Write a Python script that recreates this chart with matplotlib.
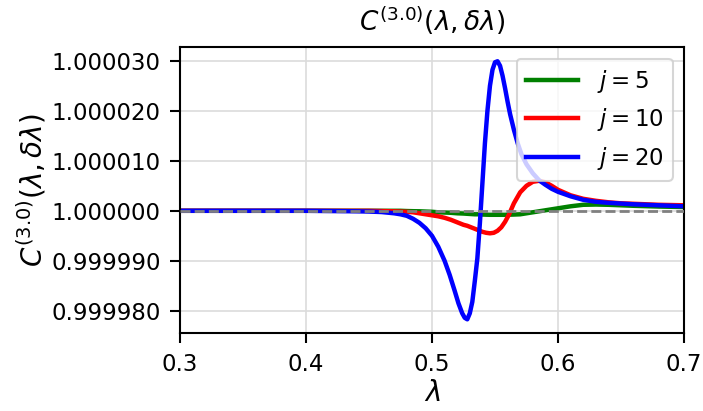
import matplotlib
matplotlib.use('Agg')
import matplotlib.pyplot as plt
from matplotlib.ticker import FormatStrFormatter, MultipleLocator
import numpy as np

# lambda values and deviations from 1 (units of 1e-5)
lam = [0.30, 0.35, 0.40, 0.42, 0.44, 0.45, 0.46, 0.47, 0.475, 0.48, 0.485, 0.49,
       0.495, 0.50, 0.505, 0.51, 0.515, 0.52, 0.525, 0.528, 0.531, 0.534, 0.537,
       0.540, 0.543, 0.546, 0.549, 0.552, 0.555, 0.558, 0.561, 0.565, 0.57, 0.575,
       0.58, 0.585, 0.59, 0.595, 0.60, 0.61, 0.62, 0.63, 0.64, 0.65, 0.66, 0.68, 0.70]

dev_j5 = [0, 0, 0, 0, 0, 0, 0, 0, 0, -0.005, -0.008, -0.01,
          -0.015, -0.02, -0.03, -0.035, -0.04, -0.05, -0.055, -0.06, -0.065, -0.07, -0.07,
          -0.075, -0.078, -0.08, -0.08, -0.08, -0.08, -0.08, -0.078, -0.075, -0.07, -0.05,
          -0.03, -0.01, 0.01, 0.03, 0.05, 0.09, 0.12, 0.125, 0.12, 0.11, 0.10, 0.085, 0.075]

dev_j10 = [0, 0, 0, 0, 0, 0, -0.005, -0.01, -0.015, -0.02, -0.03, -0.05,
           -0.07, -0.09, -0.11, -0.14, -0.18, -0.23, -0.28, -0.30, -0.33, -0.36, -0.39,
           -0.42, -0.44, -0.45, -0.44, -0.40, -0.33, -0.22, -0.08, 0.15, 0.37, 0.50,
           0.58, 0.60, 0.57, 0.50, 0.42, 0.31, 0.24, 0.20, 0.17, 0.15, 0.14, 0.12, 0.11]

# j = 20 is much sharper, read on a finer lambda grid
lam_j20 = [0.30, 0.40, 0.42, 0.44, 0.45, 0.46, 0.47, 0.475, 0.48, 0.485,
           0.49, 0.495, 0.50, 0.505, 0.51, 0.514, 0.518, 0.521, 0.524, 0.526,
           0.528, 0.530, 0.532, 0.534, 0.536, 0.538, 0.540, 0.542, 0.544, 0.546,
           0.548, 0.550, 0.552, 0.554, 0.556, 0.558, 0.560, 0.562, 0.565, 0.568,
           0.571, 0.575, 0.58, 0.585, 0.59, 0.595, 0.60, 0.61, 0.62, 0.63,
           0.64, 0.65, 0.66, 0.68, 0.70]

dev_j20 = [0, 0, -0.005, -0.01, -0.015, -0.025, -0.05, -0.07, -0.10, -0.16,
           -0.24, -0.35, -0.50, -0.72, -1.00, -1.28, -1.60, -1.85, -2.05, -2.14,
           -2.17, -2.05, -1.82, -1.40, -0.95, -0.25, 0.55, 1.35, 2.00, 2.50,
           2.82, 2.97, 2.99, 2.90, 2.70, 2.45, 2.18, 1.93, 1.62, 1.35,
           1.13, 0.93, 0.75, 0.61, 0.52, 0.44, 0.38, 0.29, 0.22, 0.18,
           0.16, 0.145, 0.13, 0.11, 0.09]

series = [(5, lam, dev_j5, 'green'),
          (10, lam, dev_j10, 'red'),
          (20, lam_j20, dev_j20, 'blue')]

fig = plt.figure(figsize=(7.03, 4.11), dpi=100)
ax = fig.add_axes([0.256, 0.189, 0.717, 0.696])

for j, x, dev, c in series:
    ax.plot(x, 1 + np.array(dev) * 1e-5, color=c, lw=3.2, label='$j = %d$' % j,
            solid_joinstyle='round')

ax.axhline(1.0, color='gray', ls='--', lw=2, dashes=(3.6, 1.5), zorder=5)

ax.set_xlim(0.3, 0.7)
ax.set_ylim(1 - 2.45e-5, 1 + 3.27e-5)
ax.xaxis.set_major_locator(MultipleLocator(0.1))
ax.yaxis.set_major_locator(MultipleLocator(1e-5))
ax.yaxis.set_major_formatter(FormatStrFormatter('%.6f'))
ax.tick_params(labelsize=16.5, length=7, width=1.5, pad=7)
for s in ax.spines.values():
    s.set_linewidth(1.5)
ax.grid(True, color='#dcdcdc', lw=1.2)
ax.set_axisbelow(True)

ax.set_xlabel(r'$\lambda$', fontsize=20, labelpad=2)
ax.set_ylabel(r'$C^{(3.0)}(\lambda, \delta\lambda)$', fontsize=20, labelpad=2)
ax.set_title(r'$C^{(3.0)}(\lambda, \delta\lambda)$', fontsize=19, pad=12)
leg = ax.legend(loc='upper right', fontsize=16.5, handlelength=2.3)
leg.get_frame().set_linewidth(1.5)

fig.savefig('out.png', dpi=100)
